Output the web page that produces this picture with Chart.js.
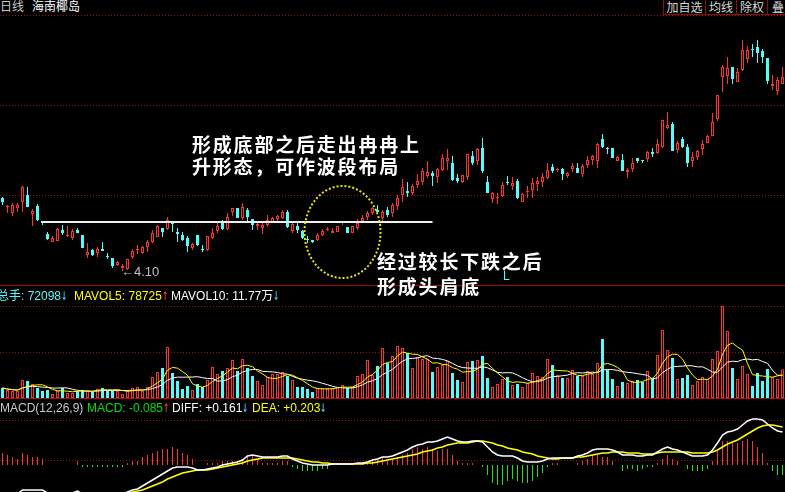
<!DOCTYPE html>
<html><head><meta charset="utf-8">
<script src="https://cdn.jsdelivr.net/npm/chart.js"></script>
<style>
html,body{margin:0;padding:0;background:#000;width:785px;height:492px;overflow:hidden;}
#wrap{position:relative;width:785px;height:492px;background:#000;overflow:hidden;}
canvas{position:absolute;left:0;}
.t{position:absolute;white-space:nowrap;font-family:"Liberation Sans","Noto Sans CJK SC",sans-serif;font-size:12px;line-height:14px;}
.cjk{font-family:"Noto Sans CJK SC",sans-serif;}
.btn{position:absolute;top:-1px;height:16px;box-sizing:border-box;border:1px solid #8a1010;color:#d8d8d8;font:12px/13px "Noto Sans CJK SC",sans-serif;text-align:center;}
.note{position:absolute;white-space:nowrap;color:#fff;font-family:"Noto Sans CJK SC",sans-serif;font-weight:bold;font-size:19px;letter-spacing:1.8px;}
.hl{position:absolute;left:0;width:785px;height:1px;background:#a01010;}
.ar,.au{display:inline-block;width:7px;font-family:"DejaVu Sans",sans-serif;font-size:12px;font-weight:bold;transform:scaleX(0.6);transform-origin:0 50%;}
.ar{color:#3cc8f0}.au{color:#ff3232}
</style></head>
<body><div id="wrap">
<canvas id="cPrice" width="785" height="270" style="top:15px"></canvas>
<canvas id="cVol" width="785" height="113" style="top:285px"></canvas>
<canvas id="cMacd" width="785" height="80" style="top:412px"></canvas>
<div class="hl" style="top:285px"></div>
<div class="hl" style="top:398px"></div>

<div class="t cjk" style="left:0;top:-1px;color:#c8c8c8">日线</div>
<div class="t cjk" style="left:32px;top:-1px;color:#ffffff">海南椰岛</div>
<div class="btn" style="left:663px;width:43px">加自选</div>
<div class="btn" style="left:705px;width:32px">均线</div>
<div class="btn" style="left:736px;width:32px">除权</div>
<div class="btn" style="left:767px;width:22px">叠</div>

<div class="note" style="left:192px;top:133px;line-height:22px">形成底部之后走出冉冉上<br>升形态，可作波段布局</div>
<div class="note" style="left:377px;top:248px;line-height:25px">经过较长下跌之后<br>形成头肩底</div>
<div class="t" style="left:503px;top:269px;color:#54fcfc">L</div>
<div class="t" style="left:121px;top:265px;font-size:13px;color:#b8c0c8">←4.10</div>

<div class="t" style="left:-3px;top:289px;color:#54fcfc">总手: 72098<span class="ar">↓</span></div>
<div class="t" style="left:74px;top:289px;color:#ffff00">MAVOL5: 78725<span class="au">↑</span></div>
<div class="t" style="left:171px;top:289px;color:#ffffff">MAVOL10: 11.77万<span class="ar">↓</span></div>

<div class="t" style="left:0;top:401px;color:#c8c8c8">MACD(12,26,9)</div>
<div class="t" style="left:87px;top:401px;color:#00e000">MACD: -0.085<span class="au">↑</span></div>
<div class="t" style="left:172px;top:401px;color:#ffffff">DIFF: +0.161<span class="ar">↓</span></div>
<div class="t" style="left:252px;top:401px;color:#ffff00">DEA: +0.203<span class="ar">↓</span></div>
</div>
<script>
// ---- data ----
const opens = [4.83,4.74,4.68,4.73,4.79,4.86,4.67,4.75,4.60,4.47,4.39,4.40,4.51,4.45,4.43,4.51,4.46,4.26,4.31,4.28,4.32,4.25,4.23,4.16,4.13,4.12,4.24,4.31,4.28,4.34,4.39,4.44,4.53,4.52,4.58,4.49,4.46,4.43,4.33,4.46,4.32,4.31,4.43,4.50,4.58,4.52,4.69,4.73,4.63,4.71,4.62,4.55,4.53,4.56,4.59,4.62,4.63,4.69,4.50,4.55,4.50,4.42,4.41,4.41,4.46,4.51,4.48,4.49,4.58,4.54,4.48,4.53,4.60,4.64,4.68,4.71,4.63,4.71,4.68,4.75,4.86,4.90,4.88,4.96,4.99,5.05,5.08,5.04,5.11,5.20,5.18,5.03,4.99,5.04,5.25,5.20,5.33,4.99,4.82,4.83,4.85,4.99,4.95,5.00,4.79,4.89,4.91,4.97,4.99,5.03,5.14,5.11,5.12,5.05,5.12,5.13,5.07,5.16,5.21,5.20,5.42,5.33,5.33,5.20,5.21,5.09,5.12,5.23,5.21,5.22,5.29,5.28,5.34,5.53,5.57,5.31,5.42,5.34,5.20,5.24,5.32,5.38,5.45,5.62,6.04,6.05,6.14,5.99,6.11,6.22,6.32,6.34,6.30,6.23,5.95,5.90,5.97];
const highs = [4.84,4.76,4.78,4.78,4.95,4.94,4.72,4.77,4.60,4.49,4.45,4.53,4.56,4.55,4.52,4.53,4.46,4.38,4.32,4.34,4.39,4.28,4.23,4.20,4.17,4.22,4.32,4.36,4.35,4.41,4.51,4.56,4.53,4.64,4.58,4.53,4.49,4.45,4.38,4.46,4.36,4.45,4.53,4.58,4.61,4.68,4.73,4.73,4.78,4.73,4.62,4.59,4.58,4.66,4.64,4.66,4.71,4.71,4.59,4.58,4.51,4.45,4.41,4.48,4.52,4.54,4.53,4.55,4.60,4.54,4.55,4.62,4.66,4.70,4.74,4.76,4.71,4.74,4.78,4.86,5.02,4.99,4.97,5.07,5.13,5.20,5.10,5.13,5.27,5.32,5.25,5.07,5.06,5.27,5.30,5.33,5.43,5.05,4.89,4.88,4.99,5.05,5.04,5.02,4.88,4.95,5.03,5.04,5.08,5.18,5.17,5.13,5.13,5.09,5.18,5.18,5.17,5.25,5.26,5.38,5.47,5.34,5.33,5.25,5.27,5.13,5.23,5.23,5.21,5.30,5.33,5.42,5.61,5.69,5.59,5.40,5.44,5.37,5.29,5.31,5.41,5.46,5.68,5.86,6.16,6.24,6.14,6.13,6.41,6.35,6.37,6.41,6.32,6.23,6.06,6.04,6.14];
const lows = [4.76,4.68,4.65,4.69,4.69,4.74,4.55,4.60,4.56,4.41,4.39,4.40,4.46,4.44,4.41,4.48,4.33,4.23,4.25,4.24,4.30,4.22,4.13,4.15,4.10,4.11,4.22,4.27,4.27,4.29,4.38,4.44,4.44,4.51,4.49,4.39,4.40,4.29,4.31,4.35,4.29,4.30,4.42,4.48,4.51,4.51,4.65,4.63,4.61,4.58,4.51,4.51,4.47,4.54,4.58,4.59,4.62,4.53,4.48,4.48,4.42,4.38,4.38,4.40,4.45,4.50,4.48,4.49,4.56,4.48,4.48,4.51,4.58,4.61,4.66,4.68,4.59,4.64,4.64,4.71,4.79,4.84,4.86,4.93,4.96,5.03,4.95,4.98,5.10,5.11,5.00,4.98,4.98,5.01,5.16,5.16,5.08,4.88,4.78,4.77,4.84,4.96,4.91,4.82,4.79,4.83,4.83,4.90,4.94,5.02,5.08,5.09,5.01,5.03,5.09,5.08,5.04,5.13,5.16,5.13,5.33,5.27,5.23,5.20,5.10,5.03,5.09,5.18,5.18,5.19,5.24,5.27,5.33,5.52,5.30,5.28,5.33,5.14,5.14,5.21,5.26,5.38,5.45,5.60,5.89,5.97,5.97,5.99,6.10,6.18,6.24,6.18,6.18,5.97,5.91,5.86,5.97];
const closes = [4.79,4.75,4.76,4.76,4.94,4.74,4.70,4.61,4.58,4.42,4.43,4.52,4.48,4.46,4.50,4.48,4.33,4.29,4.26,4.32,4.30,4.24,4.15,4.19,4.15,4.22,4.30,4.32,4.34,4.39,4.48,4.55,4.49,4.61,4.57,4.47,4.41,4.35,4.37,4.36,4.31,4.45,4.48,4.55,4.52,4.64,4.73,4.63,4.74,4.64,4.56,4.57,4.56,4.61,4.63,4.65,4.69,4.54,4.57,4.51,4.43,4.41,4.39,4.46,4.50,4.52,4.50,4.55,4.59,4.48,4.55,4.58,4.63,4.68,4.73,4.69,4.69,4.66,4.76,4.83,4.94,4.88,4.95,5.00,5.10,5.09,5.05,5.12,5.23,5.23,5.01,5.00,5.06,5.27,5.18,5.32,5.10,4.88,4.88,4.84,4.96,4.98,4.98,4.83,4.87,4.90,4.98,5.00,5.04,5.11,5.10,5.12,5.07,5.08,5.15,5.08,5.15,5.21,5.25,5.37,5.34,5.32,5.23,5.24,5.10,5.11,5.18,5.20,5.20,5.29,5.27,5.37,5.61,5.56,5.30,5.38,5.34,5.18,5.24,5.30,5.37,5.45,5.59,5.86,6.14,6.13,6.02,6.09,6.31,6.31,6.31,6.28,6.24,6.00,5.97,6.01,6.04];
const volumes = [25000,20000,17500,17500,45000,42500,35000,25000,17500,20000,10000,17500,25000,12500,12500,17500,20000,20000,15000,22500,25000,20000,20000,17500,10000,17500,25000,27500,17500,27500,52500,65000,75000,127500,62500,42500,22500,30000,20000,35000,27500,45000,77500,60000,67500,75000,95000,67500,97500,75000,55000,42500,32500,52500,60000,60000,65000,55000,45000,27500,27500,22500,15000,25000,25000,25000,25000,27500,32500,25000,27500,55000,60000,95000,57500,80000,125000,87500,105000,130000,125000,112500,75000,102500,97500,97500,65000,77500,82500,92500,62500,45000,40000,90000,92500,95000,105000,50000,27500,35000,47500,52500,32500,35000,27500,37500,62500,55000,52500,97500,82500,57500,50000,50000,70000,55000,55000,67500,60000,87500,147500,70000,47500,30000,40000,37500,42500,45000,40000,67500,50000,107500,170000,120000,100000,47500,50000,57500,32500,42500,52500,47500,97500,117500,230000,167500,75000,47500,80000,60000,30000,62500,42500,72500,52500,47500,72098];
const diffLine = [-0.145,-0.145,-0.145,-0.145,-0.125,-0.125,-0.125,-0.125,-0.125,-0.14,-0.14,-0.14,-0.14,-0.14,-0.14,-0.13,-0.145,-0.145,-0.145,-0.145,-0.145,-0.145,-0.145,-0.145,-0.145,-0.135,-0.125,-0.12,-0.105,-0.09,-0.075,-0.06,-0.045,-0.03,-0.015,-0.01,-0.01,-0.01,-0.015,-0.025,-0.025,-0.02,-0.015,-0.01,0,0.005,0.01,0.015,0.025,0.045,0.05,0.045,0.04,0.04,0.04,0.04,0.045,0.045,0.03,0.02,0.01,0.005,0,0,0,0,0.005,0.005,0.005,0.005,0.005,0.01,0.01,0.015,0.025,0.03,0.04,0.04,0.045,0.055,0.065,0.075,0.09,0.1,0.105,0.115,0.115,0.12,0.13,0.14,0.13,0.12,0.115,0.115,0.12,0.12,0.115,0.09,0.065,0.05,0.045,0.045,0.045,0.035,0.02,0.015,0.015,0.015,0.02,0.03,0.035,0.035,0.035,0.035,0.035,0.045,0.05,0.06,0.075,0.08,0.08,0.08,0.075,0.065,0.05,0.05,0.05,0.045,0.045,0.05,0.05,0.065,0.08,0.09,0.08,0.075,0.065,0.055,0.045,0.045,0.045,0.05,0.075,0.11,0.15,0.165,0.17,0.18,0.2,0.22,0.23,0.23,0.225,0.205,0.185,0.17,0.165];
const deaLine = [-0.175,-0.17,-0.165,-0.16,-0.155,-0.15,-0.145,-0.145,-0.14,-0.14,-0.14,-0.14,-0.14,-0.14,-0.14,-0.14,-0.14,-0.14,-0.14,-0.14,-0.14,-0.14,-0.14,-0.14,-0.14,-0.14,-0.135,-0.13,-0.125,-0.115,-0.105,-0.095,-0.085,-0.07,-0.06,-0.05,-0.04,-0.035,-0.03,-0.025,-0.025,-0.025,-0.02,-0.015,-0.01,-0.005,0,0.005,0.01,0.02,0.025,0.03,0.035,0.035,0.035,0.035,0.035,0.035,0.035,0.03,0.025,0.02,0.015,0.015,0.01,0.01,0.005,0.005,0.005,0.005,0.005,0.005,0.005,0.01,0.01,0.015,0.02,0.025,0.03,0.035,0.04,0.045,0.05,0.055,0.065,0.07,0.075,0.085,0.09,0.1,0.105,0.11,0.11,0.11,0.115,0.12,0.12,0.115,0.11,0.1,0.095,0.085,0.08,0.075,0.065,0.06,0.055,0.045,0.04,0.035,0.03,0.03,0.035,0.035,0.035,0.04,0.04,0.045,0.05,0.055,0.06,0.06,0.065,0.065,0.065,0.06,0.06,0.06,0.055,0.055,0.055,0.06,0.065,0.065,0.065,0.065,0.065,0.065,0.06,0.06,0.06,0.06,0.065,0.075,0.09,0.105,0.115,0.125,0.14,0.155,0.17,0.185,0.195,0.2,0.2,0.195,0.19];
const days = opens.map((_, i) => 'D' + (i + 1));

// annotation anchors (category index / price)
const supportLine = {from: 8, to: 86, price: 4.59};
const circleMark = {at: 68, price: 4.49, rx: 38, ry: 46};

const RED = '#ff3232', CYAN = '#54fcfc', GREEN = '#1ee11e', GRID = '#a01010';
const up = opens.map((o, i) => closes[i] >= o);

function movingAvg(arr, n) {
  return arr.map((_, i) => {
    const s = arr.slice(Math.max(0, i - n + 1), i + 1);
    return s.reduce((a, b) => a + b, 0) / s.length;
  });
}
const macdBars = diffLine.map((d, i) => 2 * (d - deaLine[i]));

const hgrid = {
  id: 'hgrid',
  beforeDatasetsDraw(chart, args, opts) {
    const {ctx, chartArea: {left, right}, scales: {y}} = chart;
    ctx.save();
    ctx.strokeStyle = GRID; ctx.lineWidth = 1; ctx.setLineDash([1, 2]);
    (opts.values || []).forEach(v => {
      const py = Math.round(y.getPixelForValue(v)) + 0.5;
      ctx.beginPath(); ctx.moveTo(left, py); ctx.lineTo(right, py); ctx.stroke();
    });
    ctx.restore();
  }
};
const marks = {
  id: 'marks',
  afterDatasetsDraw(chart) {
    const {ctx, scales: {x, y}} = chart;
    ctx.save();
    const yy = Math.round(y.getPixelForValue(supportLine.price));
    ctx.strokeStyle = '#f0f0f0'; ctx.lineWidth = 2;
    ctx.beginPath(); ctx.moveTo(x.getPixelForValue(supportLine.from) - 1, yy); ctx.lineTo(x.getPixelForValue(supportLine.to), yy); ctx.stroke();
    ctx.strokeStyle = '#e8e800'; ctx.lineWidth = 2; ctx.setLineDash([2, 2]);
    ctx.beginPath();
    ctx.ellipse(x.getPixelForValue(circleMark.at), y.getPixelForValue(circleMark.price), circleMark.rx, circleMark.ry, 0, 0, Math.PI * 2);
    ctx.stroke();
    ctx.restore();
  }
};

function opts(min, max, gridVals) {
  return {
    responsive: false, animation: false, events: [],
    layout: {padding: 0},
    plugins: {legend: {display: false}, tooltip: {enabled: false}, hgrid: {values: gridVals}},
    scales: {
      x: {type: 'category', display: false, offset: true},
      y: {type: 'linear', display: false, min: min, max: max}
    }
  };
}

new Chart(document.getElementById('cPrice'), {
  type: 'bar',
  data: {labels: days, datasets: [
    {label: 'body', data: opens.map((o, i) => [o, closes[i]]), backgroundColor: up.map(u => u ? '#000' : CYAN), borderColor: up.map(u => u ? RED : CYAN), borderWidth: 1, borderSkipped: false, barThickness: 3, grouped: false, inflateAmount: 0, order: 0},
    {label: 'wick', data: lows.map((l, i) => [l, highs[i]]), backgroundColor: up.map(u => u ? RED : CYAN), borderWidth: 0, barThickness: 1, grouped: false, inflateAmount: 0, order: 1}
  ]},
  options: opts(3.96, 6.66, [6.66, 5.76, 4.86]),
  plugins: [hgrid, marks]
});

new Chart(document.getElementById('cVol'), {
  type: 'bar',
  data: {labels: days, datasets: [
    {type: 'line', label: 'MAVOL5', data: movingAvg(volumes, 5), borderColor: '#ffff00', borderWidth: 1, pointRadius: 0, tension: 0, order: 0},
    {type: 'line', label: 'MAVOL10', data: movingAvg(volumes, 10), borderColor: '#ffffff', borderWidth: 1, pointRadius: 0, tension: 0, order: 0},
    {label: 'vol', data: volumes, backgroundColor: up.map(u => u ? '#000' : CYAN), borderColor: up.map(u => u ? RED : CYAN), borderWidth: 1, borderSkipped: false, barThickness: 3, grouped: false, inflateAmount: 0, order: 1}
  ]},
  options: opts(0, 282500, [230000, 115000]),
  plugins: [hgrid]
});

new Chart(document.getElementById('cMacd'), {
  type: 'bar',
  data: {labels: days, datasets: [
    {type: 'line', label: 'DIFF', data: diffLine, borderColor: '#ffffff', borderWidth: 1.5, pointRadius: 0, tension: 0, order: 0},
    {type: 'line', label: 'DEA', data: deaLine, borderColor: '#ffff00', borderWidth: 1.5, pointRadius: 0, tension: 0, order: 0},
    {label: 'MACD', data: macdBars, backgroundColor: macdBars.map(v => v >= 0 ? RED : GREEN), borderWidth: 0, barThickness: 1, grouped: false, inflateAmount: 0, order: 1}
  ]},
  options: opts(-0.135, 0.265, [0.225, 0.025]),
  plugins: [hgrid]
});
</script>
</body></html>
